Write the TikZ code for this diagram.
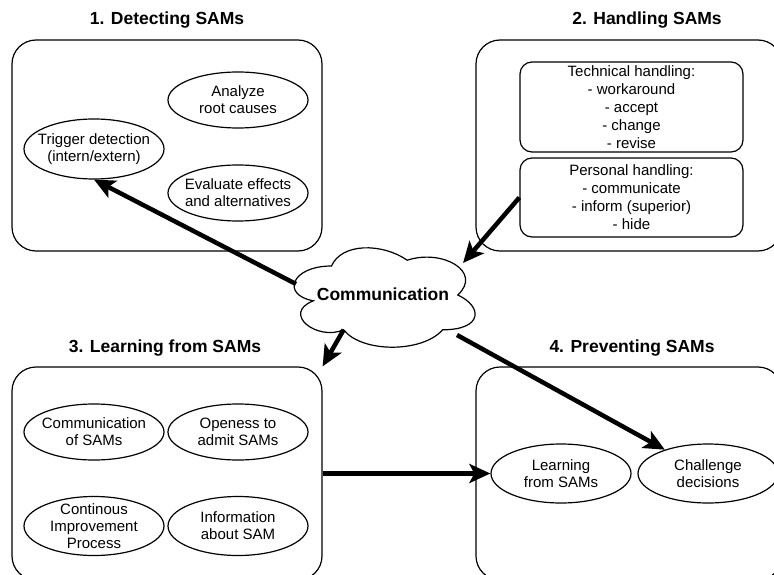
\documentclass[tikz,border=0pt]{standalone}
\usepackage{fontspec}
\setmainfont{Liberation Sans}
\usetikzlibrary{arrows.meta,shapes.geometric}
\begin{document}
\begin{tikzpicture}[x=1pt,y=-1pt,
  frame/.style={draw, line width=1.2pt, rounded corners=24pt, inner sep=0pt},
  sub/.style={draw, line width=1.2pt, rounded corners=12pt, inner sep=0pt, align=center,
    font=\fontsize{15}{18}\selectfont, minimum width=223pt},
  oval/.style={draw, ellipse, line width=1.2pt, minimum width=140pt, minimum height=#1, inner sep=0pt},
  oval/.default=56pt,
  txt/.style={align=center, font=\fontsize{15}{17.25}\selectfont, inner sep=0pt},
  title/.style={font=\fontsize{17.5}{21}\selectfont\bfseries, inner sep=0pt},
  big/.style={-{Stealth[length=21pt,width=19pt,inset=5pt]}, line width=4.5pt},
]
\useasboundingbox (0,0) rectangle (774,575);

% frames
\node[frame, minimum width=310pt, minimum height=211pt] (box1) at (167,145.5) {};
\node[frame, minimum width=306pt, minimum height=211pt] (box2) at (629,145.5) {};
\node[frame, minimum width=310pt, minimum height=213pt] (box3) at (167,473.5) {};
\node[frame, minimum width=306pt, minimum height=213pt] (box4) at (629,473.5) {};

% titles
\node[title, anchor=base] (t1) at (167,25) {1. Detecting SAMs};
\node[title, anchor=base] (t2) at (647,25) {2. Handling SAMs};
\node[title, anchor=base] (t3) at (165,352) {3. Learning from SAMs};
\node[title, anchor=base] (t4) at (632,352) {4. Preventing SAMs};

% box 1
\node[oval] (ana) at (238,100) {};
\node[txt] at (ana) {Analyze\\root causes};
\node[oval=60pt] (trig) at (94,149) {};
\node[txt] at (trig) {Trigger detection\\(intern/extern)};
\node[oval] (eva) at (238,193) {};
\node[txt] at (eva) {Evaluate effects\\and alternatives};

% box 2
\node[sub, minimum height=90pt] (tech) at (631.5,107) {Technical handling:\\- workaround\\- accept\\- change\\- revise};
\node[sub, minimum height=79pt] (pers) at (631.5,197.5) {Personal handling:\\- communicate\\- inform (superior)\\- hide};

% box 3
\node[oval] (comof) at (94,432) {};
\node[txt] at (comof) {Communication\\of SAMs};
\node[oval] (open) at (238,432) {};
\node[txt] at (open) {Openess to\\admit SAMs};
\node[oval=59pt] (cip) at (94,526) {};
\node[txt] at (cip) {Continous\\Improvement\\Process};
\node[oval=59pt] (info) at (238,526) {};
\node[txt] at (info) {Information\\about SAM};

% box 4
\node[oval=59pt] (learn) at (561,473.5) {};
\node[txt] at (learn) {Learning\\from SAMs};
\node[oval=59pt] (chal) at (708,473.5) {};
\node[txt] at (chal) {Challenge\\decisions};

% cloud
\begin{scope}[shift={(281,237)}, xscale=202, yscale=116]
\draw[line width=1.2pt, fill=white] (0.25,0.25) .. controls (0.05,0.25) and (0,0.5) .. (0.16,0.55)
  .. controls (0,0.66) and (0.18,0.9) .. (0.31,0.8)
  .. controls (0.4,1) and (0.7,1) .. (0.8,0.8)
  .. controls (1,0.8) and (1,0.6) .. (0.875,0.5)
  .. controls (1,0.3) and (0.8,0.1) .. (0.625,0.2)
  .. controls (0.5,0.05) and (0.3,0.05) .. (0.25,0.25) -- cycle;
\coordinate (cB) at (0.31,0.8);
\end{scope}
\node[title] (comm) at (383,294) {Communication};
\coordinate (cA) at (296,284);
\coordinate (cC) at (457,335);
\coordinate (cD) at (463,263);

% arrows
\draw[big] (cA) -- (trig.south);
\draw[big] (pers.west) -- (cD);
\draw[big] (cB) -- (box3.north east);
\draw[big] (cC) -- (chal);
\draw[big] (box3.east) -- (learn.west);
\end{tikzpicture}
\end{document}
